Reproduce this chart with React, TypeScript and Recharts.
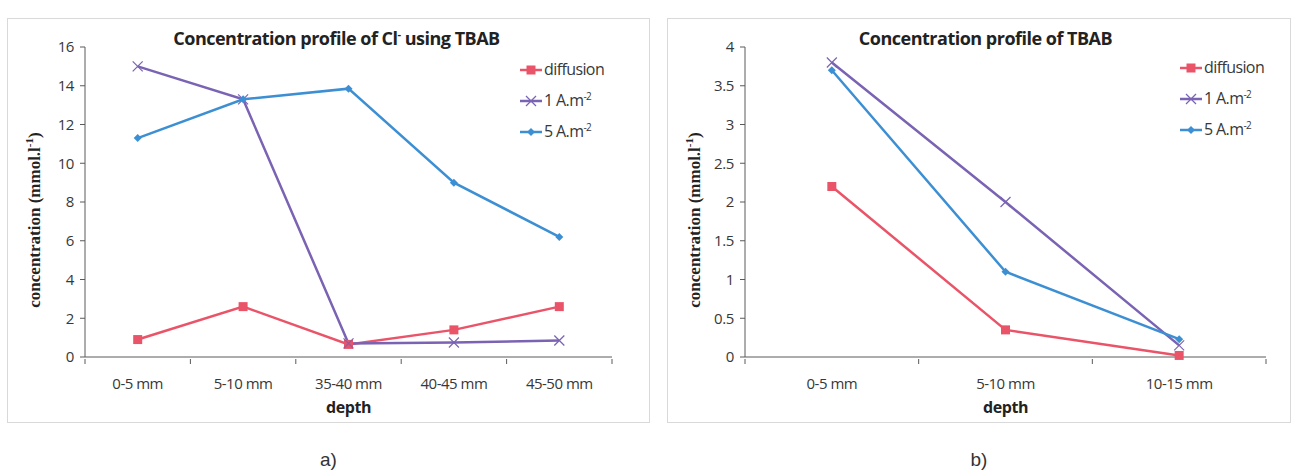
import type { JSX } from "react";
import { LineChart, Line, XAxis, YAxis } from "recharts";

// ─── data ─────────────────────────────────────────────────────────────────────

const depthsA = ["0-5 mm", "5-10 mm", "35-40 mm", "40-45 mm", "45-50 mm"];
const diffusionA = [0.9, 2.6, 0.65, 1.4, 2.6];
const oneAmpA = [15.0, 13.3, 0.7, 0.75, 0.85];
const fiveAmpA = [11.3, 13.3, 13.85, 9.0, 6.2];
const ticksA = [0, 2, 4, 6, 8, 10, 12, 14, 16];

const depthsB = ["0-5 mm", "5-10 mm", "10-15 mm"];
const diffusionB = [2.2, 0.35, 0.02];
const oneAmpB = [3.8, 2.0, 0.15];
const fiveAmpB = [3.7, 1.1, 0.23];
const ticksB = [0, 0.5, 1, 1.5, 2, 2.5, 3, 3.5, 4];

const RED = "#ea5468";
const PURPLE = "#7a63b3";
const BLUE = "#3d8fd3";
const AXIS = "#5a5a5a";
const FONT = "'Open Sans', Roboto, sans-serif";

// ─── markers ──────────────────────────────────────────────────────────────────

function SquareDot(props: any): JSX.Element {
  const { cx, cy } = props;
  return <rect x={cx - 4.5} y={cy - 4.5} width={9} height={9} fill={RED} />;
}

function CrossDot(props: any): JSX.Element {
  const { cx, cy } = props;
  const s = 5;
  return (
    <g stroke={PURPLE} strokeWidth={1.2}>
      <line x1={cx - s} y1={cy - s} x2={cx + s} y2={cy + s} />
      <line x1={cx - s} y1={cy + s} x2={cx + s} y2={cy - s} />
    </g>
  );
}

function DiamondDot(props: any): JSX.Element {
  const { cx, cy } = props;
  const s = 4;
  return <path d={`M${cx},${cy - s}L${cx + s},${cy}L${cx},${cy + s}L${cx - s},${cy}Z`} fill={BLUE} />;
}

// ─── panel ────────────────────────────────────────────────────────────────────

interface PanelProps {
  left: number;
  width: number;
  title: JSX.Element;
  categories: string[];
  diffusion: number[];
  oneAmp: number[];
  fiveAmp: number[];
  ticks: number[];
  plotLeft: number;
  plotRight: number;
  legendLeft: number;
  legendTop: number;
  titleShift: number;
  caption: string;
}

function Panel(p: PanelProps): JSX.Element {
  const height = 405;
  const top = 18;
  const plotTop = 47 - top;
  const plotBottom = 423 - 357;
  const yAxisW = 40;
  const data = p.categories.map((c, i) => ({
    depth: c,
    diffusion: p.diffusion[i],
    oneAmp: p.oneAmp[i],
    fiveAmp: p.fiveAmp[i],
  }));
  const plotW = p.width - p.plotLeft - p.plotRight;
  const band = plotW / p.categories.length;

  const XTick = (t: any): JSX.Element => {
    const { x, y, payload, index } = t;
    return (
      <g>
        <text x={x} y={y + 30} textAnchor="middle" fontSize={15} fill="#383838" fontFamily={FONT} letterSpacing={-0.5}>
          {payload.value}
        </text>
        <line x1={x - band / 2} y1={y} x2={x - band / 2} y2={y + 5} stroke={AXIS} />
        {index === p.categories.length - 1 && (
          <line x1={x + band / 2} y1={y} x2={x + band / 2} y2={y + 5} stroke={AXIS} />
        )}
      </g>
    );
  };

  const legendRows = [
    { label: <>diffusion</>, color: RED, dot: "sq" },
    { label: <>1 A.m<tspan dy={-6} fontSize={10}>-2</tspan></>, color: PURPLE, dot: "x" },
    { label: <>5 A.m<tspan dy={-6} fontSize={10}>-2</tspan></>, color: BLUE, dot: "d" },
  ];

  return (
    <div style={{ position: "absolute", left: p.left, top: 0, width: p.width, height: 472 }}>
      <div
        style={{
          position: "absolute",
          left: 0,
          top,
          width: p.width - 2,
          height: height - 2,
          border: "1px solid #d9d9d9",
        }}
      />
      <div style={{ position: "absolute", left: 0, top }}>
        <LineChart
          width={p.width}
          height={height}
          data={data}
          margin={{ top: plotTop, right: p.plotRight, bottom: plotBottom - 30, left: p.plotLeft - yAxisW }}
        >
          <XAxis
            dataKey="depth"
            stroke={AXIS}
            tickLine={false}
            tickSize={0}
            height={30}
            tick={XTick}
            interval={0}
            padding={{ left: band / 2, right: band / 2 }}
          />
          <YAxis
            width={yAxisW}
            domain={[p.ticks[0], p.ticks[p.ticks.length - 1]]}
            ticks={p.ticks}
            stroke={AXIS}
            tickSize={5}
            tickMargin={6}
            tick={{ fontSize: 15, fill: "#383838", fontFamily: FONT, letterSpacing: -0.4 }}
            interval={0}
          />
          <Line dataKey="diffusion" stroke={RED} strokeWidth={2.5} dot={<SquareDot />} isAnimationActive={false} />
          <Line dataKey="oneAmp" stroke={PURPLE} strokeWidth={2.5} dot={<CrossDot />} isAnimationActive={false} />
          <Line dataKey="fiveAmp" stroke={BLUE} strokeWidth={2.5} dot={<DiamondDot />} isAnimationActive={false} />
        </LineChart>
      </div>

      {/* title */}
      <div
        style={{
          position: "absolute",
          left: p.plotLeft + p.titleShift,
          width: plotW,
          top: 26,
          textAlign: "center",
          fontFamily: FONT,
          fontWeight: 700,
          fontSize: 18,
          letterSpacing: -0.5,
          color: "#222",
        }}
      >
        {p.title}
      </div>

      {/* legend */}
      <svg
        style={{ position: "absolute", left: p.legendLeft, top: p.legendTop - 5, overflow: "visible" }}
        width={p.width - p.legendLeft - 4}
        height={95}
      >
        {legendRows.map((r, i) => {
          const y = 15 + i * 31;
          return (
            <g key={i}>
              <line x1={1} y1={y} x2={23} y2={y} stroke={r.color} strokeWidth={2.5} />
              {r.dot === "sq" && <SquareDot cx={12} cy={y} />}
              {r.dot === "x" && <CrossDot cx={12} cy={y} />}
              {r.dot === "d" && <DiamondDot cx={12} cy={y} />}
              <text x={25} y={y + 5} fontSize={16} fill="#383838" fontFamily={FONT} letterSpacing={-0.6}>
                {r.label}
              </text>
            </g>
          );
        })}
      </svg>

      {/* axis titles */}
      <div
        style={{
          position: "absolute",
          left: p.plotLeft,
          width: plotW,
          top: 396,
          textAlign: "center",
          fontFamily: FONT,
          fontWeight: 700,
          fontSize: 16,
          letterSpacing: -0.4,
          color: "#222",
        }}
      >
        depth
      </div>
      <svg style={{ position: "absolute", left: 0, top: 0 }} width={60} height={472}>
        <text
          transform={`translate(33, 220) rotate(-90)`}
          textAnchor="middle"
          fontFamily="'Liberation Serif', serif"
          fontWeight={700}
          fontSize={17}
          fill="#222"
        >
          concentration (mmol.l<tspan dy={-7} fontSize={11}>-1</tspan>
          <tspan dy={7}>)</tspan>
        </text>
      </svg>

      {/* caption */}
      <div
        style={{
          position: "absolute",
          left: 0,
          width: p.width,
          top: 449,
          textAlign: "center",
          fontFamily: "'Liberation Sans', Arial, sans-serif",
          fontSize: 19,
          color: "#333",
        }}
      >
        {p.caption}
      </div>
    </div>
  );
}

export default function App(): JSX.Element {
  return (
    <div style={{ position: "absolute", left: 0, top: 0, width: 1295, height: 472, background: "#fff" }}>
      <Panel
        left={7}
        width={643}
        title={
          <>
            Concentration profile of Cl<sup style={{ fontSize: 11 }}>-</sup> using TBAB
          </>
        }
        categories={depthsA}
        diffusion={diffusionA}
        oneAmp={oneAmpA}
        fiveAmp={fiveAmpA}
        ticks={ticksA}
        plotLeft={78}
        plotRight={38}
        legendLeft={512}
        legendTop={60}
        titleShift={-12}
        caption="a)"
      />
      <Panel
        left={667}
        width={624}
        title={<>Concentration profile of TBAB</>}
        categories={depthsB}
        diffusion={diffusionB}
        oneAmp={oneAmpB}
        fiveAmp={fiveAmpB}
        ticks={ticksB}
        plotLeft={78}
        plotRight={25}
        legendLeft={512}
        legendTop={58}
        titleShift={-20}
        caption="b)"
      />
    </div>
  );
}
